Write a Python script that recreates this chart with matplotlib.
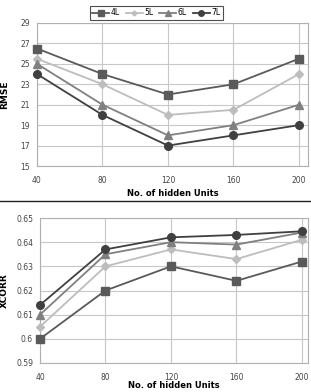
from matplotlib import pyplot as plt
from matplotlib.lines import Line2D

units = [40, 80, 120, 160, 200]
series = ['4L', '5L', '6L', '7L']

rmse_4l = [26.5, 24, 22, 23, 25.5]
rmse_5l = [25.5, 23, 20, 20.5, 24]
rmse_6l = [25, 21, 18, 19, 21]
rmse_7l = [24, 20, 17, 18, 19]

xcorr_4l = [0.600, 0.620, 0.630, 0.624, 0.632]
xcorr_5l = [0.605, 0.630, 0.637, 0.633, 0.641]
xcorr_6l = [0.610, 0.635, 0.640, 0.639, 0.644]
xcorr_7l = [0.614, 0.637, 0.642, 0.643, 0.6445]

rmse_ticks = [15, 17, 19, 21, 23, 25, 27, 29]
xcorr_ticks = [0.59, 0.6, 0.61, 0.62, 0.63, 0.64, 0.65]

colors = ['#5a5a5a', '#bdbdbd', '#808080', '#404040']
markers = ['s', 'D', '^', 'o']
msizes = [6, 4, 5.5, 5.5]

fig = plt.figure(figsize=(3.11, 3.92), dpi=100)
ax1 = fig.add_axes([37 / 311, 1 - 166 / 392, 271 / 311, 143 / 392])
ax2 = fig.add_axes([40 / 311, 1 - 363 / 392, 268 / 311, 145 / 392])

rmse = [rmse_4l, rmse_5l, rmse_6l, rmse_7l]
xcorr = [xcorr_4l, xcorr_5l, xcorr_6l, xcorr_7l]

for i in range(len(series)):
    ax1.plot(units, rmse[i], color=colors[i], marker=markers[i], ms=msizes[i],
             lw=1.3, clip_on=False, zorder=3)
    ax2.plot(units, xcorr[i], color=colors[i], marker=markers[i], ms=msizes[i],
             lw=1.3, clip_on=False, zorder=3)

ax1.set_xlim(40, 205.5)
ax2.set_xlim(40, 203.7)
for ax, ticks in [(ax1, rmse_ticks), (ax2, xcorr_ticks)]:
    ax.set_xticks(units)
    ax.set_yticks(ticks)
    ax.set_ylim(ticks[0], ticks[-1])
    ax.grid(True, color='#c8c8c8', lw=0.8)
    ax.set_axisbelow(True)
    for s in ax.spines.values():
        s.set_color('#b0b0b0')
        s.set_linewidth(0.8)
    ax.tick_params(labelsize=5.5, length=0, pad=5, colors='#444444')
    ax.tick_params(axis='x', pad=7)
    ax.set_xlabel('No. of hidden Units', fontsize=6, fontweight='bold', va='center')

ax1.xaxis.set_label_coords(0.5, -27 / 143)
ax2.xaxis.set_label_coords(0.5, -23 / 145)

ax2.set_yticklabels(['0.59', '0.6', '0.61', '0.62', '0.63', '0.64', '0.65'])
ax1.set_ylabel('RMSE', fontsize=6.5, fontweight='bold', labelpad=8)
ax2.set_ylabel('XCORR', fontsize=6.5, fontweight='bold', labelpad=5)

handles = [Line2D([0], [0], color=colors[i], marker=markers[i], ms=msizes[i] - 1.5, lw=1.3)
           for i in range(len(series))]
leg = fig.legend(handles, series, loc='upper center', bbox_to_anchor=(0.503, 0.995),
                 ncol=4, fontsize=5.5, frameon=True, fancybox=False, handlelength=2.2,
                 handletextpad=0.2, columnspacing=0.8, borderpad=0.35)
leg.get_frame().set_edgecolor('#222222')
leg.get_frame().set_linewidth(0.8)

fig.add_artist(Line2D([0, 1], [1 - 201 / 392, 1 - 201 / 392], color='#222222', lw=1.0))

plt.savefig('out.png', dpi=100)
